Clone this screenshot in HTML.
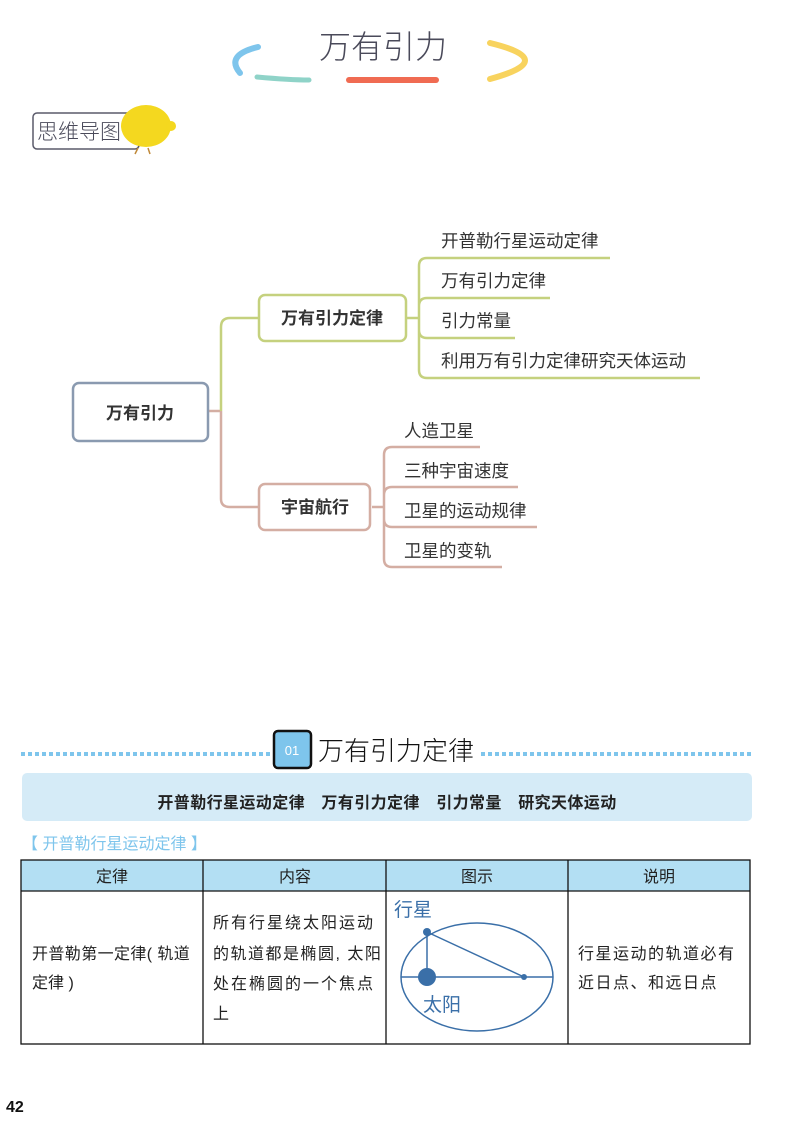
<!DOCTYPE html>
<html><head><meta charset="utf-8">
<style>
html,body{margin:0;padding:0;background:#fff;}
svg{display:block;}
text{font-family:"Liberation Sans","Noto Sans CJK SC",sans-serif;}
</style></head><body>
<svg width="799" height="1141" viewBox="0 0 799 1141" xmlns="http://www.w3.org/2000/svg">
<path d="M258 47 Q225 55 240 73" stroke="#7ec5ec" stroke-width="6" fill="none" stroke-linecap="round"/>
<path d="M257 77 Q290 80 309 80" stroke="#8fd3c8" stroke-width="5" fill="none" stroke-linecap="round"/>
<path d="M349 80 L436 80" stroke="#f06b52" stroke-width="6" fill="none" stroke-linecap="round"/>
<path d="M490 43 Q560 60 490 79" stroke="#f8d35e" stroke-width="6" fill="none" stroke-linecap="round"/>
<text x="383" y="58" font-size="32" fill="#4a4a5a" text-anchor="middle" font-family="'Noto Sans CJK SC',sans-serif" font-weight="300">万有引力</text>
<rect x="33" y="113" width="106" height="36" rx="4" fill="#fff" stroke="#5a5a6a" stroke-width="1.5"/>
<text x="37" y="139" font-size="21" fill="#4a4a5a" font-family="'Noto Sans CJK SC',sans-serif" font-weight="300">思维导图</text>
<ellipse cx="146" cy="126" rx="25" ry="21" fill="#f4d81f"/>
<ellipse cx="171" cy="126" rx="5" ry="5" fill="#f4d81f"/>
<path d="M138 148 l-3 6 M148 148 l2 6" stroke="#c08a3a" stroke-width="1.5"/>

<g fill="none" stroke-width="2.5">
 <path d="M209 411 L221 411" stroke="#d4aea3"/>
 <path d="M221 411 L221 327 Q221 318 230 318 L259 318" stroke="#c5d17e"/>
 <path d="M221 411 L221 499 Q221 507 230 507 L259 507" stroke="#d4aea3"/>
 <path d="M407 318 L419 318" stroke="#c5d17e"/>
 <path d="M419 266 Q419 258 427 258 L610 258 M419 266 L419 370 Q419 378 427 378 L700 378 M419 306 Q419 298 427 298 L550 298 M419 330 Q419 338 427 338 L515 338 M419 306 L419 330" stroke="#c5d17e"/>
 <path d="M372 507 L384 507" stroke="#d4aea3"/>
 <path d="M384 455 Q384 447 392 447 L480 447 M384 455 L384 559 Q384 567 392 567 L502 567 M384 495 Q384 487 392 487 L518 487 M384 519 Q384 527 392 527 L537 527" stroke="#d4aea3"/>
</g>
<rect x="73" y="383" width="135" height="58" rx="6" fill="#fff" stroke="#8a9ab0" stroke-width="2.5"/>
<text x="140" y="419" font-size="17" font-weight="bold" fill="#333" text-anchor="middle">万有引力</text>
<rect x="259" y="295" width="147" height="46" rx="6" fill="#fff" stroke="#c5d17e" stroke-width="2.5"/>
<text x="332" y="324" font-size="17" font-weight="bold" fill="#333" text-anchor="middle">万有引力定律</text>
<rect x="259" y="484" width="111" height="46" rx="6" fill="#fff" stroke="#d4aea3" stroke-width="2.5"/>
<text x="315" y="513" font-size="17" font-weight="bold" fill="#333" text-anchor="middle">宇宙航行</text>
<g font-size="17.5" fill="#333">
 <text x="441" y="247">开普勒行星运动定律</text>
 <text x="441" y="287">万有引力定律</text>
 <text x="441" y="327">引力常量</text>
 <text x="441" y="367">利用万有引力定律研究天体运动</text>
 <text x="404" y="437">人造卫星</text>
 <text x="404" y="477">三种宇宙速度</text>
 <text x="404" y="517">卫星的运动规律</text>
 <text x="404" y="557">卫星的变轨</text>
</g>

<line x1="21" y1="754" x2="272" y2="754" stroke="#7ec5ec" stroke-width="4" stroke-dasharray="4,3"/>
<line x1="481" y1="754" x2="751" y2="754" stroke="#7ec5ec" stroke-width="4" stroke-dasharray="4,3"/>
<rect x="274" y="731" width="37" height="37" rx="4" fill="#7ec5ec" stroke="#111" stroke-width="2.5"/>
<text x="292" y="755" font-size="13" fill="#fff" text-anchor="middle">01</text>
<text x="318" y="760" font-size="26" fill="#111" font-family="'Noto Sans CJK SC',sans-serif" font-weight="300">万有引力定律</text>
<rect x="22" y="773" width="730" height="48" rx="5" fill="#d5ebf7"/>
<text x="387" y="808" font-size="16" font-weight="bold" fill="#222" text-anchor="middle" letter-spacing="0.4">开普勒行星运动定律　万有引力定律　引力常量　研究天体运动</text>
<text x="22" y="849" font-size="16" fill="#7ec5ec">【 开普勒行星运动定律 】</text>

<rect x="21" y="860" width="729" height="31" fill="#b3dff3"/>
<g stroke="#111" stroke-width="1.3" fill="none">
 <rect x="21" y="860" width="729" height="184"/>
 <line x1="21" y1="891" x2="750" y2="891"/>
 <line x1="203" y1="860" x2="203" y2="1044"/>
 <line x1="386" y1="860" x2="386" y2="1044"/>
 <line x1="568" y1="860" x2="568" y2="1044"/>
</g>
<g font-size="16" fill="#222" text-anchor="middle">
 <text x="112" y="882">定律</text>
 <text x="295" y="882">内容</text>
 <text x="477" y="882">图示</text>
 <text x="659" y="882">说明</text>
</g>
<g font-size="16" fill="#222">
 <text x="32" y="959" letter-spacing="0.4">开普勒第一定律( 轨道</text>
 <text x="32" y="988">定律 )</text>
 <text x="213" y="928" letter-spacing="2">所有行星绕太阳运动</text>
 <text x="213" y="959" letter-spacing="1.5">的轨道都是椭圆, 太阳</text>
 <text x="213" y="989" letter-spacing="2">处在椭圆的一个焦点</text>
 <text x="213" y="1019">上</text>
 <text x="578" y="959" letter-spacing="1.5">行星运动的轨道必有</text>
 <text x="578" y="988" letter-spacing="1.5">近日点、和远日点</text>
</g>
<g stroke="#3a6fa8" stroke-width="1.5" fill="none">
 <ellipse cx="477" cy="977" rx="76" ry="54"/>
 <line x1="401" y1="977" x2="553" y2="977"/>
 <line x1="427" y1="932" x2="427" y2="977"/>
 <line x1="427" y1="932" x2="524" y2="977"/>
</g>
<circle cx="427" cy="932" r="4" fill="#3a6fa8"/>
<circle cx="427" cy="977" r="9" fill="#3a6fa8"/>
<circle cx="524" cy="977" r="3" fill="#3a6fa8"/>
<text x="394" y="916" font-size="19" fill="#3a6fa8">行星</text>
<text x="423" y="1011" font-size="19" fill="#3a6fa8">太阳</text>

<text x="6" y="1112" font-size="16" font-weight="bold" fill="#111">42</text>
</svg>
</body></html>
